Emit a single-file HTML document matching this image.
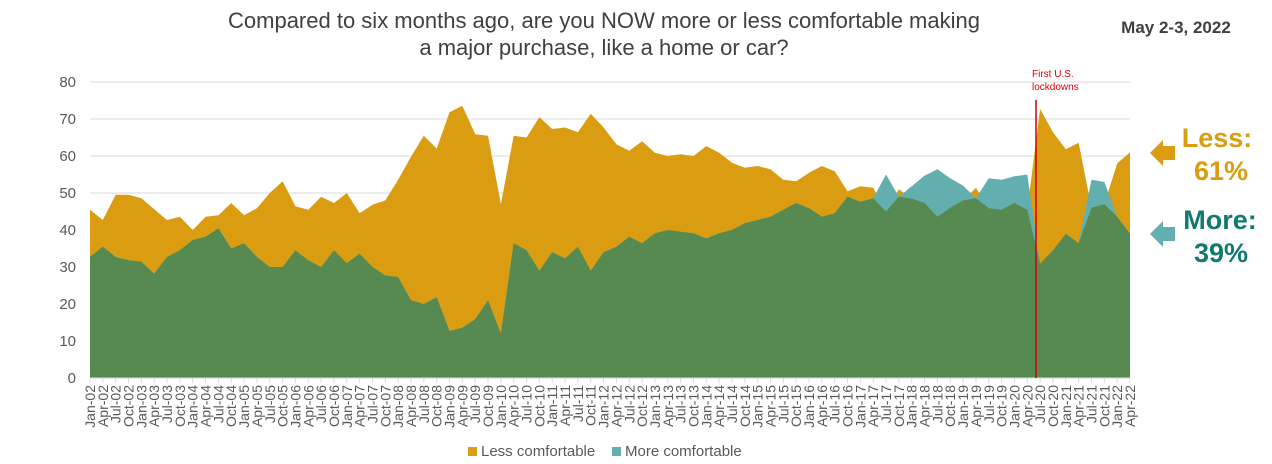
<!DOCTYPE html>
<html><head><meta charset="utf-8"><style>
body{margin:0;background:#fff;width:1272px;height:459px;overflow:hidden;font-family:"Liberation Sans",sans-serif}
svg text{font-family:"Liberation Sans",sans-serif}
</style></head><body>
<svg id="chart" width="1272" height="459" viewBox="0 0 1272 459" xmlns="http://www.w3.org/2000/svg">
<text x="604" y="28" font-size="22" fill="#404040" text-anchor="middle">Compared to six months ago, are you NOW more or less comfortable making</text>
<text x="604" y="55" font-size="22" fill="#404040" text-anchor="middle">a major purchase, like a home or car?</text>
<text x="1176" y="33" font-size="17" font-weight="bold" fill="#404040" text-anchor="middle">May 2-3, 2022</text>
<g id="grid"></g>
<g id="areas"></g>
<g id="xaxis"></g>
<g id="yaxis"></g>
<line x1="1036" y1="100" x2="1036" y2="378" stroke="#d00000" stroke-width="1.5"/>
<text x="1032" y="77" font-size="10" fill="#e00000">First U.S.</text>
<text x="1032" y="90" font-size="10" fill="#e00000">lockdowns</text>
<polygon points="1150,153 1163,140 1163,146 1175,146 1175,160 1163,160 1163,166" fill="#DA9D12"/>
<text x="1217" y="147" font-size="27" font-weight="bold" fill="#DA9D12" text-anchor="middle">Less:</text>
<text x="1221" y="180" font-size="27" font-weight="bold" fill="#DA9D12" text-anchor="middle">61%</text>
<polygon points="1150,234 1163,221 1163,227 1175,227 1175,241 1163,241 1163,247" fill="#63AFB0"/>
<text x="1220" y="229" font-size="27" font-weight="bold" fill="#0F7A70" text-anchor="middle">More:</text>
<text x="1221" y="262" font-size="27" font-weight="bold" fill="#0F7A70" text-anchor="middle">39%</text>
<rect x="468" y="447" width="9" height="9" fill="#DA9D12"/>
<text x="481" y="456" font-size="15" fill="#595959">Less comfortable</text>
<rect x="612" y="447" width="9" height="9" fill="#63AFB0"/>
<text x="625" y="456" font-size="15" fill="#595959">More comfortable</text>
</svg>
<script>
const lessVals=[45.5,42.7,49.5,49.5,48.6,45.6,42.7,43.6,40,43.6,44,47.3,44,45.9,50,53.2,46.4,45.5,49,47.3,50,44.5,46.8,48,53.6,59.8,65.5,62,71.8,73.6,65.9,65.5,47,65.5,65,70.5,67.3,67.7,66.4,71.4,67.7,63.2,61.4,64,60.9,60,60.5,60,62.7,60.9,58.2,56.8,57.3,56.4,53.6,53.2,55.5,57.3,55.9,50.5,51.8,51.4,45,51,48.5,47.3,43.6,46,48,51.4,45.9,45.5,47.3,45.5,72.7,66.4,61.8,63.6,46,47,58,61];
const moreVals=[32.7,35.5,32.7,31.8,31.4,28.2,32.7,34.5,37.3,38.2,40.5,35,36.4,32.7,30,30,34.5,31.8,30,34.5,31,33.6,30,27.7,27.3,21,20,21.8,12.7,13.6,15.9,21,12,36.4,34.5,29,34,32.3,35.5,29,34,35.5,38.2,36.4,39.1,40,39.5,39.1,37.7,39.1,40,41.8,42.7,43.6,45.5,47.3,45.9,43.6,44.5,49,47.6,48.6,55,49,51.8,54.7,56.4,54,52,48.6,54,53.6,54.5,55,30.9,34.5,39,36.4,53.6,53,43.6,39];
const yTicks=[0,10,20,30,40,50,60,70,80];
const monthNames=["Jan","Apr","Jul","Oct"];
const NS="http://www.w3.org/2000/svg";
const x0=90,x1=1130,yb=378,yt=82;
const n=lessVals.length;
const xs=i=>x0+(x1-x0)*i/(n-1);
const ys=v=>yb-(yb-yt)*v/80;
function mk(tag,attrs,parent){const e=document.createElementNS(NS,tag);for(const k in attrs)e.setAttribute(k,attrs[k]);parent.appendChild(e);return e;}
const grid=document.getElementById('grid'),yaxis=document.getElementById('yaxis'),xaxis=document.getElementById('xaxis'),areas=document.getElementById('areas');
yTicks.forEach(t=>{
 if(t>0){const g=mk('line',{x1:x0,x2:x1,y1:ys(t),y2:ys(t),stroke:'#d9d9d9','stroke-width':1},grid);
 
 }
 const l=mk('text',{x:76,y:ys(t)+5,'font-size':15,fill:'#595959','text-anchor':'end'},yaxis);
 
 
 l.textContent=t;
});
function areaPath(vals){let d='M'+xs(0)+','+yb;vals.forEach((v,i)=>{d+=' L'+xs(i).toFixed(1)+','+ys(v).toFixed(1);});return d+' L'+xs(n-1)+','+yb+' Z';}
const pl=mk('path',{d:areaPath(lessVals),fill:'#DA9D12'},areas);


const pm=mk('path',{d:areaPath(moreVals),fill:'#63AFB0'},areas);


const minVals=lessVals.map((v,i)=>Math.min(v,moreVals[i]));
const po=mk('path',{d:areaPath(minVals),fill:'#578A51'},areas);


mk('line',{x1:x0,x2:x1,y1:yb,y2:yb,stroke:'#d9d9d9'},xaxis);
for(let i=0;i<n;i++){
 const x=xs(i);
 mk('line',{x1:x,x2:x,y1:yb,y2:yb+5,stroke:'#d9d9d9'},xaxis);
 const yr=2+Math.floor(i/4);
 const lab=monthNames[i%4]+'-'+String(yr).padStart(2,'0');
 const t=mk('text',{x:0,y:0,'font-size':14,fill:'#595959','text-anchor':'end',transform:`translate(${x+5},385) rotate(-90)`},xaxis);
 
 
 t.textContent=lab;
}
</script>
</body></html>
